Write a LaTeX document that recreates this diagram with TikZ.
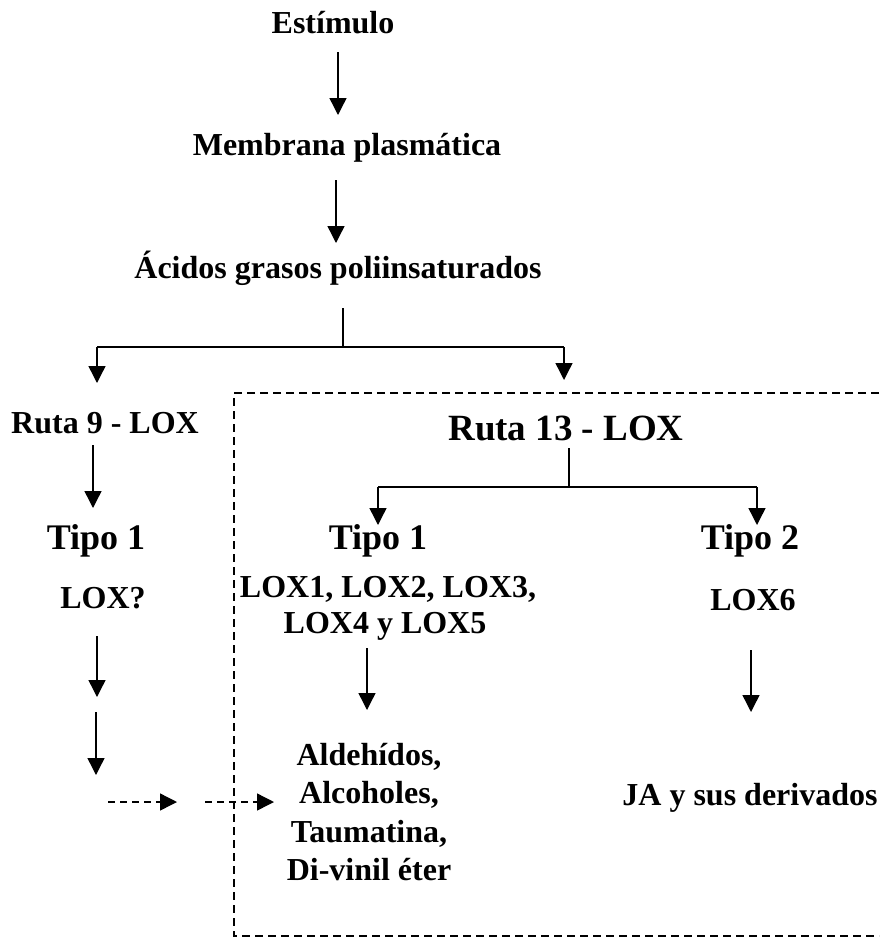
\documentclass[tikz,border=0pt]{standalone}
\usepackage{fontspec}
\setmainfont{Liberation Serif}
\usetikzlibrary{arrows.meta}
\tikzset{
  lbl/.style={anchor=base, inner sep=0pt, font=\bfseries\fontsize{32}{38}\selectfont},
  biglbl/.style={anchor=base, inner sep=0pt, font=\bfseries\fontsize{36}{42}\selectfont},
  arr/.style={line width=1.4pt, -{Triangle[width=17pt,length=17pt]}},
  ln/.style={line width=1.4pt},
  darr/.style={line width=1.4pt, dash pattern=on 7pt off 5pt, -{Triangle[width=17pt,length=17pt]}},
  boxline/.style={line width=2.4pt, dash pattern=on 8pt off 5pt}
}
\begin{document}
\begin{tikzpicture}[x=1pt,y=-1pt]
\useasboundingbox (0,0) rectangle (879,940);
% dashed frame
\coordinate (fTR) at (879,393);
\coordinate (fTL) at (234,393);
\coordinate (fBL) at (234,936);
\coordinate (fBR) at (879,936);
\draw[boxline] (fTR) -- (fTL) -- (fBL) -- (fBR);
% texts
\node[lbl] (est) at (333,33) {Estímulo};
\node[lbl] (memb) at (347,155) {Membrana plasmática};
\node[lbl] (acid) at (338,278) {Ácidos grasos poliinsaturados};
\node[lbl] (r9) at (105,433) {Ruta 9 - LOX};
\node[biglbl] (t1a) at (96,549) {Tipo 1};
\node[lbl] (loxq) at (103,608) {LOX?};
\node[biglbl,font=\bfseries\fontsize{37}{42}\selectfont] (r13) at (566,440) {Ruta 13 - LOX};
\node[biglbl] (t1b) at (378,549) {Tipo 1};
\node[lbl] (loxa) at (388,597) {LOX1, LOX2, LOX3,};
\node[lbl] (loxb) at (385,633) {LOX4 y LOX5};
\node[biglbl] (t2) at (750,549) {Tipo 2};
\node[lbl] (lox6) at (753,610) {LOX6};
\node[lbl] (ald) at (369,765) {Aldehídos,};
\node[lbl] (alc) at (369,803) {Alcoholes,};
\node[lbl] (tau) at (369,842) {Taumatina,};
\node[lbl] (div) at (369,880) {Di-vinil éter};
\node[lbl] (ja) at (750,805) {JA y sus derivados};
% connector coordinates
\coordinate (a1s) at (338,52);  \coordinate (a1e) at (338,115);
\coordinate (a2s) at (336,180); \coordinate (a2e) at (336,243);
\coordinate (s1) at (343,308);  \coordinate (s1j) at (343,347);
\coordinate (s1l) at (97,347);  \coordinate (s1le) at (97,383);
\coordinate (s1r) at (564,347); \coordinate (s1re) at (564,380);
\coordinate (a3s) at (93,445);  \coordinate (a3e) at (93,508);
\coordinate (a4s) at (97,636);  \coordinate (a4e) at (97,697);
\coordinate (a5s) at (96,712);  \coordinate (a5e) at (96,775);
\coordinate (d1s) at (108,802); \coordinate (d1e) at (177,802);
\coordinate (d2s) at (205,802); \coordinate (d2e) at (274,802);
\coordinate (s2) at (569,448);  \coordinate (s2j) at (569,487);
\coordinate (s2l) at (378,487); \coordinate (s2le) at (378,525);
\coordinate (s2r) at (757,487); \coordinate (s2re) at (757,525);
\coordinate (a6s) at (367,648); \coordinate (a6e) at (367,710);
\coordinate (a7s) at (751,650); \coordinate (a7e) at (751,712);
% connectors
\draw[arr] (a1s) -- (a1e);
\draw[arr] (a2s) -- (a2e);
\draw[ln] (s1) -- (s1j);
\draw[ln] (s1l) -- (s1r);
\draw[arr] (s1l) -- (s1le);
\draw[arr] (s1r) -- (s1re);
\draw[arr] (a3s) -- (a3e);
\draw[arr] (a4s) -- (a4e);
\draw[arr] (a5s) -- (a5e);
\draw[darr] (d1s) -- (d1e);
\draw[darr] (d2s) -- (d2e);
\draw[ln] (s2) -- (s2j);
\draw[ln] (s2l) -- (s2r);
\draw[arr] (s2l) -- (s2le);
\draw[arr] (s2r) -- (s2re);
\draw[arr] (a6s) -- (a6e);
\draw[arr] (a7s) -- (a7e);
\end{tikzpicture}
\end{document}
